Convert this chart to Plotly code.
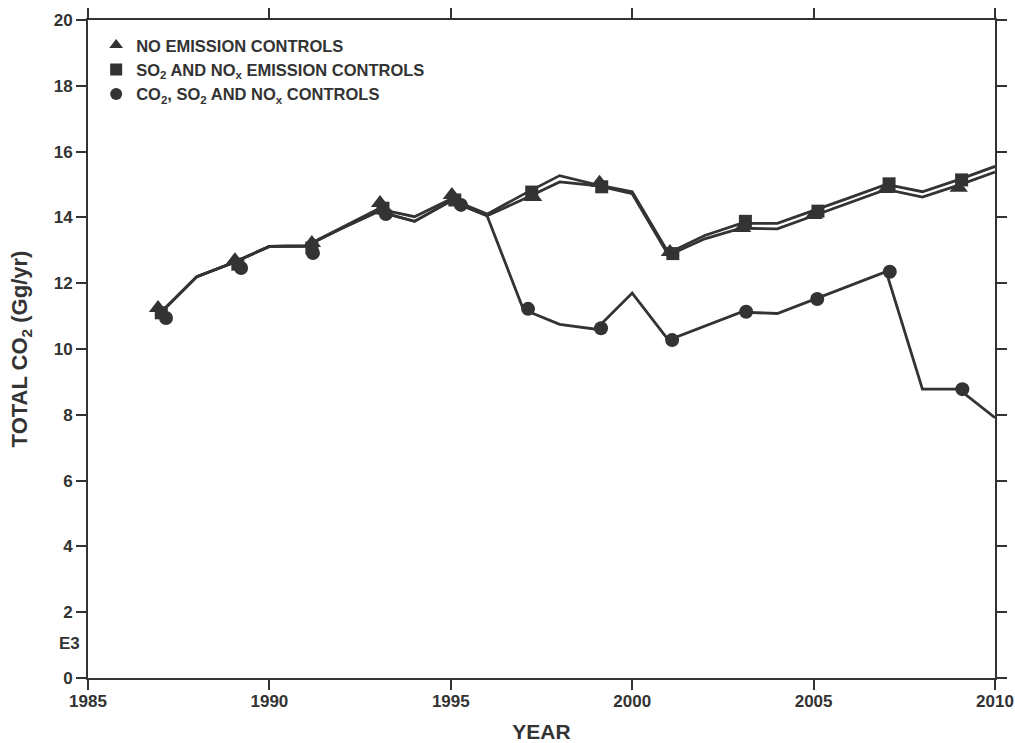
import plotly.graph_objects as go

# ---- data ----
years = list(range(1987, 2011))

no_controls = [11.10, 12.20, 12.62, 13.12, 13.13, 13.67, 14.18, 13.88, 14.50, 14.05,
               14.55, 15.08, 14.97, 14.72, 12.85, 13.35, 13.67, 13.65, 14.05, 14.45,
               14.85, 14.62, 14.98, 15.38]
so2_nox_controls = [11.10, 12.20, 12.62, 13.12, 13.13, 13.70, 14.26, 14.02, 14.56, 14.10,
                    14.70, 15.27, 15.00, 14.78, 12.92, 13.45, 13.82, 13.82, 14.20, 14.60,
                    15.00, 14.78, 15.15, 15.55]
co2_so2_nox_controls = [11.10, 12.20, 12.62, 13.12, 13.13, 13.67, 14.18, 13.88, 14.50, 14.05,
                        11.20, 10.75, 10.60, 11.70, 10.27, 10.70, 11.12, 11.08, 11.50, 11.93,
                        12.35, 8.78, 8.78, 7.91]

# marker sample points (as placed on the original plot)
tri_years = [1986.93, 1989.05, 1991.17, 1993.05, 1995.03, 1997.27, 1999.10, 2001.04, 2003.03, 2005.00, 2007.00, 2009.00]
tri_vals = [11.25, 12.70, 13.22, 14.44, 14.68, 14.62, 15.05, 12.95, 13.68, 14.07, 14.86, 14.90]
sq_years = [1987.02, 1989.13, 1991.17, 1993.13, 1995.11, 1997.23, 1999.16, 2001.12, 2003.12, 2005.12, 2007.08, 2009.08]
sq_vals = [11.10, 12.58, 13.07, 14.28, 14.53, 14.77, 14.93, 12.90, 13.88, 14.19, 15.02, 15.14]
circ_years = [1987.15, 1989.22, 1991.20, 1993.21, 1995.28, 1997.13, 1999.14, 2001.10, 2003.14, 2005.10, 2007.10, 2009.10]
circ_vals = [10.94, 12.46, 12.92, 14.10, 14.38, 11.22, 10.63, 10.27, 11.13, 11.52, 12.35, 8.78]

names = ["NO EMISSION CONTROLS",
         "SO<sub>2</sub> AND NO<sub>x</sub> EMISSION CONTROLS",
         "CO<sub>2</sub>, SO<sub>2</sub> AND NO<sub>x</sub> CONTROLS"]

x_ticks = [1985, 1990, 1995, 2000, 2005, 2010]
y_ticks = list(range(0, 21, 2))

INK = "#333333"
FONT = "Liberation Sans, Arial, Helvetica, sans-serif"

fig = go.Figure()

for vals in (co2_so2_nox_controls, no_controls, so2_nox_controls):
    fig.add_trace(go.Scatter(x=years, y=vals, mode="lines",
                             line=dict(color=INK, width=2.8),
                             showlegend=False, hoverinfo="skip"))

fig.add_trace(go.Scatter(x=circ_years, y=circ_vals, mode="markers", name=names[2],
                         legendrank=3,
                         marker=dict(symbol="circle", size=14, color=INK, line=dict(width=0))))
fig.add_trace(go.Scatter(x=sq_years, y=sq_vals, mode="markers", name=names[1],
                         legendrank=2,
                         marker=dict(symbol="square", size=13, color=INK, line=dict(width=0))))
fig.add_trace(go.Scatter(x=tri_years, y=tri_vals, mode="markers", name=names[0],
                         legendrank=1,
                         marker=dict(symbol="triangle-up", size=16, color=INK, line=dict(width=0))))

axis_common = dict(showline=True, linecolor=INK, linewidth=2, mirror="ticks",
                   ticks="outside", ticklen=10, tickwidth=2, tickcolor=INK,
                   showgrid=False, zeroline=False, automargin=False,
                   tickfont=dict(family=FONT, size=17, color=INK, weight="bold"))

fig.update_xaxes(range=[1985, 2010], tickvals=x_ticks, ticktext=[str(v) for v in x_ticks],
                 ticklabelstandoff=-3,
                 title=dict(text="YEAR", font=dict(family=FONT, size=21, color=INK, weight="bold"),
                            standoff=14),
                 **axis_common)
fig.update_yaxes(range=[0, 20], tickvals=y_ticks, ticktext=[str(v) for v in y_ticks],
                 title=dict(text="TOTAL CO<sub>2</sub> (Gg/yr)",
                            font=dict(family=FONT, size=22, color=INK, weight="bold"),
                            standoff=20),
                 **axis_common)

fig.add_annotation(text="E3", xref="paper", yref="y", x=0, y=1.06, xanchor="right",
                   xshift=-6, showarrow=False,
                   font=dict(family=FONT, size=17, color=INK, weight="bold"))

fig.update_layout(
    width=1015, height=743,
    margin=dict(l=88, r=20, t=20, b=65),
    paper_bgcolor="white", plot_bgcolor="white",
    showlegend=True,
    legend=dict(x=0.009, y=0.988, xanchor="left", yanchor="top",
                bgcolor="rgba(0,0,0,0)", borderwidth=0,
                font=dict(family=FONT, size=16.5, color=INK, weight="bold"),
                itemsizing="constant", tracegroupgap=0),
)

fig.write_html("out.html")
